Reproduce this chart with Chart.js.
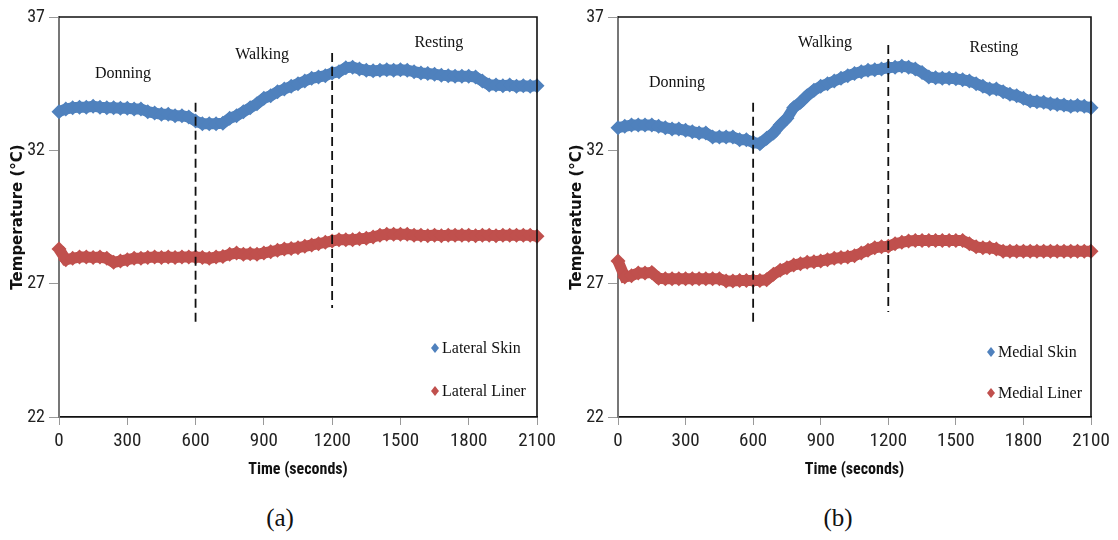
<!DOCTYPE html>
<html lang="en">
<head>
  <meta charset="utf-8">
  <title>Skin and liner temperature</title>
  <script src="https://cdn.jsdelivr.net/npm/chart.js@4/dist/chart.umd.min.js"></script>
  <style>
    body { margin: 0; background: #fff; width: 1118px; height: 540px; position: relative; overflow: hidden; }
    .panel { position: absolute; top: 0; height: 490px; }
    #panelA { left: 0; width: 575px; }
    #panelB { left: 559px; width: 559px; }
    .caption { position: absolute; top: 504px; font-family: 'Liberation Serif', 'DejaVu Serif', serif; font-size: 25px; color: #111; transform: translateX(-50%); }
  </style>
</head>
<body>
  <div class="panel" id="panelA"><canvas id="chartA"></canvas></div>
  <div class="panel" id="panelB"><canvas id="chartB"></canvas></div>
  <div class="caption" style="left:280px">(a)</div>
  <div class="caption" style="left:838px">(b)</div>

<script>
  // sample times (seconds)
  var timeSec = [0, 30, 60, 90, 120, 150, 180, 210, 240, 270, 300, 330, 360, 390, 420, 450, 480, 510, 540, 570,
    600, 630, 660, 690, 720, 750, 780, 810, 840, 870, 900, 930, 960, 990, 1020, 1050, 1080, 1110, 1140, 1170,
    1200, 1230, 1260, 1290, 1320, 1350, 1380, 1410, 1440, 1470, 1500, 1530, 1560, 1590, 1620, 1650, 1680, 1710,
    1740, 1770, 1800, 1830, 1860, 1890, 1920, 1950, 1980, 2010, 2040, 2070, 2100];

  // (a) lateral sensors
  var lateralSkin = [33.45, 33.55, 33.6, 33.62, 33.62, 33.65, 33.62, 33.6, 33.6, 33.58, 33.58, 33.55, 33.55, 33.45, 33.4, 33.35, 33.35, 33.3, 33.3, 33.25,
    33.1, 33.0, 33.0, 33.0, 33.02, 33.2, 33.3, 33.45, 33.6, 33.75, 33.95, 34.05, 34.2, 34.3, 34.4, 34.5, 34.6, 34.7, 34.75, 34.8,
    34.9, 34.95, 35.1, 35.12, 35.05, 35.0, 34.98, 35.0, 35.02, 35.0, 35.02, 35.0, 34.95, 34.9, 34.88, 34.85, 34.82, 34.8,
    34.78, 34.78, 34.78, 34.75, 34.6, 34.45, 34.45, 34.42, 34.45, 34.4, 34.42, 34.4, 34.42];
  var lateralLiner = [28.3, 27.9, 27.95, 28.0, 28.0, 27.98, 28.0, 27.95, 27.8, 27.85, 27.9, 27.95, 27.95, 27.98, 28.0, 27.98, 28.0, 27.98, 28.0, 28.0,
    28.0, 27.98, 27.95, 28.0, 28.02, 28.1, 28.15, 28.1, 28.12, 28.1, 28.15, 28.2, 28.25, 28.3, 28.32, 28.35, 28.4, 28.45, 28.5, 28.55,
    28.6, 28.65, 28.65, 28.65, 28.68, 28.7, 28.75, 28.82, 28.85, 28.85, 28.85, 28.85, 28.82, 28.82, 28.8, 28.82, 28.8, 28.82,
    28.82, 28.82, 28.82, 28.8, 28.82, 28.82, 28.8, 28.82, 28.82, 28.82, 28.82, 28.82, 28.78];

  // (b) medial sensors
  var medialSkin = [32.85, 32.9, 32.95, 32.95, 32.95, 32.95, 32.9, 32.85, 32.8, 32.8, 32.75, 32.7, 32.65, 32.65, 32.5, 32.5, 32.5, 32.5, 32.4, 32.4,
    32.3, 32.25, 32.45, 32.65, 32.95, 33.2, 33.6, 33.8, 34.05, 34.25, 34.4, 34.5, 34.6, 34.7, 34.8, 34.88, 34.95, 35.0, 35.02, 35.05,
    35.1, 35.12, 35.15, 35.12, 35.05, 34.92, 34.75, 34.72, 34.7, 34.7, 34.68, 34.65, 34.6, 34.5, 34.4, 34.3, 34.3, 34.2,
    34.1, 34.05, 33.95, 33.85, 33.82, 33.8, 33.75, 33.72, 33.7, 33.65, 33.68, 33.65, 33.6];
  var medialLiner = [27.85, 27.25, 27.3, 27.4, 27.4, 27.42, 27.2, 27.18, 27.18, 27.18, 27.18, 27.18, 27.18, 27.18, 27.18, 27.18, 27.1, 27.1, 27.12, 27.12,
    27.12, 27.12, 27.15, 27.35, 27.5, 27.6, 27.7, 27.75, 27.8, 27.82, 27.85, 27.9, 27.95, 27.98, 28.0, 28.05, 28.15, 28.25, 28.35, 28.38,
    28.4, 28.5, 28.55, 28.6, 28.62, 28.62, 28.62, 28.62, 28.62, 28.62, 28.62, 28.62, 28.5, 28.38, 28.35, 28.35, 28.3, 28.22,
    28.22, 28.22, 28.22, 28.22, 28.22, 28.22, 28.22, 28.22, 28.22, 28.22, 28.22, 28.22, 28.22];

  var xTickValues = [0, 300, 600, 900, 1200, 1500, 1800, 2100];
  var yTickValues = [22, 27, 32, 37];
  var phaseNames = ['Donning', 'Walking', 'Resting'];
  var phaseBoundaries = [600, 1200];

  // where the phase labels and dashed dividers sit, in data units
  var phaseLabelA = [[281, 34.86], [892, 35.58], [1669, 36.03]];
  var phaseLabelB = [[262, 34.53], [919, 36.03], [1669, 35.84]];
  var dividerSpanA = [[33.78, 25.53], [35.65, 26.09]];
  var dividerSpanB = [[33.78, 25.53], [35.95, 25.94]];

  var BLUE = '#4f81bd';
  var RED = '#c0504d';
  var narrow = "'Liberation Sans Narrow', 'Arial Narrow', 'Roboto Condensed', sans-serif";
  var serif = "'Liberation Serif', 'Times New Roman', serif";

  function points(values) {
    return timeSec.map(function (t, i) { return { x: t, y: values[i] }; });
  }

  function seriesDataset(label, values, color) {
    return {
      label: label,
      data: points(values),
      showLine: true,
      borderColor: color,
      borderWidth: 11,
      pointStyle: 'rectRot',
      pointRadius: 7.5,
      pointBackgroundColor: color,
      pointBorderWidth: 0,
      tension: 0,
      clip: false,
      inLegend: true
    };
  }

  function dividerDataset(x, span) {
    return {
      data: [{ x: x, y: span[0] }, { x: x, y: span[1] }],
      showLine: true,
      borderColor: '#111',
      borderWidth: 1.8,
      borderDash: [9, 5],
      pointRadius: 0,
      order: -1,
      clip: false
    };
  }

  // frame on top/right + phase texts + legend inside plot
  var decorPlugin = {
    id: 'decor',
    afterDraw: function (chart) {
      var ctx = chart.ctx, a = chart.chartArea;
      var xs = chart.scales.x, ys = chart.scales.y;
      var o = chart.options.plugins.decor;
      ctx.save();
      ctx.strokeStyle = '#111';
      ctx.lineWidth = 1.6;
      ctx.beginPath();
      ctx.moveTo(a.left, a.top);
      ctx.lineTo(a.right, a.top);
      ctx.lineTo(a.right, a.bottom);
      ctx.stroke();

      ctx.fillStyle = '#111';
      ctx.font = '16px ' + serif;
      ctx.textAlign = 'center';
      ctx.textBaseline = 'middle';
      o.phases.forEach(function (p, i) {
        ctx.fillText(phaseNames[i], xs.getPixelForValue(p[0]), ys.getPixelForValue(p[1]));
      });

      // legend
      var items = chart.data.datasets.filter(function (d) { return d.inLegend; });
      ctx.textAlign = 'left';
      items.forEach(function (d, i) {
        var cx = a.right - o.legendRight;
        var cy = a.top + o.legendTop + i * o.legendGap;
        ctx.fillStyle = d.borderColor;
        ctx.beginPath();
        ctx.moveTo(cx, cy - 5);
        ctx.lineTo(cx + 4, cy);
        ctx.lineTo(cx, cy + 5);
        ctx.lineTo(cx - 4, cy);
        ctx.closePath();
        ctx.fill();
        ctx.fillStyle = '#111';
        ctx.fillText(d.label, cx + 7, cy + 1);
      });
      ctx.restore();
    }
  };

  function makeChart(id, skinLabel, skin, linerLabel, liner, phases, spans, padRight, legendRight, legendTop, legendGap) {
    var datasets = [
      seriesDataset(skinLabel, skin, BLUE),
      seriesDataset(linerLabel, liner, RED)
    ];
    phaseBoundaries.forEach(function (b, i) { datasets.push(dividerDataset(b, spans[i])); });

    return new Chart(document.getElementById(id), {
      type: 'scatter',
      data: { datasets: datasets },
      plugins: [decorPlugin],
      options: {
        responsive: true,
        maintainAspectRatio: false,
        animation: false,
        layout: { padding: { left: 0, right: padRight, top: 17, bottom: 0 } },
        plugins: {
          legend: { display: false },
          tooltip: { enabled: false },
          decor: { phases: phases, legendRight: legendRight, legendTop: legendTop, legendGap: legendGap }
        },
        scales: {
          x: {
            type: 'linear',
            min: 0,
            max: 2100,
            afterBuildTicks: function (s) { s.ticks = xTickValues.map(function (v) { return { value: v }; }); },
            afterFit: function (s) { s.height = 73; },
            border: { color: '#111', width: 1.8 },
            grid: { drawOnChartArea: false, drawTicks: true, tickLength: 8, color: '#999' },
            ticks: {
              color: '#222', font: { family: narrow, size: 19 }, padding: 5, maxRotation: 0,
              callback: function (v) { return String(v); }
            },
            title: {
              display: true,
              text: 'Time (seconds)',
              color: '#111',
              font: { family: narrow, size: 16, weight: 'bold' },
              padding: { top: 0, bottom: 10 }
            }
          },
          y: {
            min: 22,
            max: 37,
            afterBuildTicks: function (s) { s.ticks = yTickValues.map(function (v) { return { value: v }; }); },
            afterFit: function (s) { s.width = 59; },
            border: { color: '#777', width: 2 },
            grid: { drawOnChartArea: false, drawTicks: true, tickLength: 10, color: '#999' },
            ticks: {
              color: '#222', font: { family: narrow, size: 18 }, padding: 4,
              callback: function (v) { return String(v); }
            },
            title: {
              display: true,
              text: 'Temperature (°C)',
              color: '#111',
              font: { family: "'DejaVu Sans', sans-serif", size: 15, weight: 'bold' },
              padding: { top: 9, bottom: 0 }
            }
          }
        }
      }
    });
  }

  makeChart('chartA', 'Lateral Skin', lateralSkin, 'Lateral Liner', lateralLiner, phaseLabelA, dividerSpanA, 38, 102, 331, 43);
  makeChart('chartB', 'Medial Skin', medialSkin, 'Medial Liner', medialLiner, phaseLabelB, dividerSpanB, 27, 100, 335, 41);
</script>
</body>
</html>
